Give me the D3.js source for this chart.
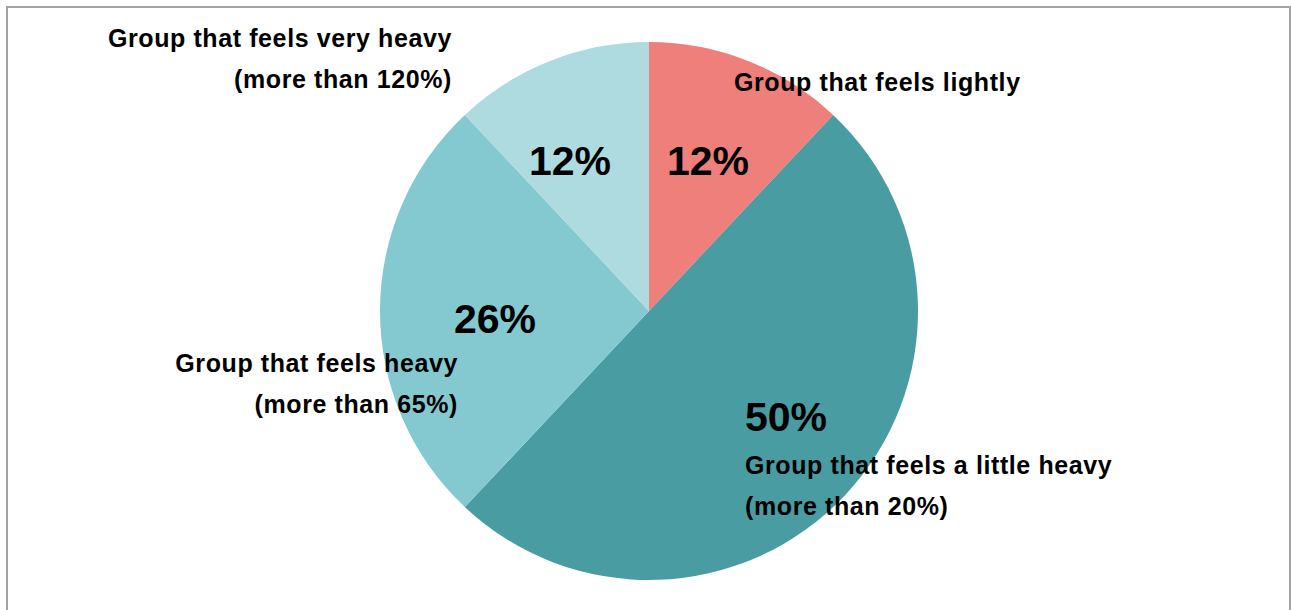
<!DOCTYPE html>
<html>
<head>
<meta charset="utf-8">
<script src="https://cdn.jsdelivr.net/npm/d3@7"></script>
<style>
  body { margin: 0; background: #fff; }
  text { font-family: "Liberation Sans", Arial, sans-serif; font-weight: bold; fill: #000; }
</style>
</head>
<body>
<div id="chart"></div>
<script>
// chart data
var groups = ["Group that feels lightly", "Group that feels a little heavy", "Group that feels heavy", "Group that feels very heavy"];
var subLabels = ["", "(more than 20%)", "(more than 65%)", "(more than 120%)"];
var shares = [12, 50, 26, 12];
var colors = ["#ee7f7a", "#4a9ca3", "#84c9cf", "#aedbdf"];

var width = 1291, height = 610;
var cx = 649, cy = 311, radius = 269;

var svg = d3.select("#chart")
  .append("svg")
  .attr("width", width)
  .attr("height", height);

svg.append("rect")
  .attr("width", width).attr("height", height)
  .attr("fill", "#fff");

// frame
svg.append("rect")
  .attr("x", 7).attr("y", 7)
  .attr("width", 1283).attr("height", 640)
  .attr("fill", "none")
  .attr("stroke", "#a3a3a3")
  .attr("stroke-width", 2);

var g = svg.append("g")
  .attr("transform", "translate(" + cx + "," + cy + ")");

var pie = d3.pie().sort(null).value(function(d){ return d; });
var arc = d3.arc().innerRadius(0).outerRadius(radius);
var arcs = pie(shares);

g.selectAll(".slice")
  .data(arcs)
  .join("path")
    .attr("class", "slice")
    .attr("d", arc)
    .attr("fill", function(d, i){ return colors[i]; });

// label placement (relative to pie centre), set by hand like the original
var pctPos = [[59, 161], [137, 417], [-154, 319], [-79, 161]];
var namePos = [[85, 82, "start"], [96, 465, "start"], [-191, 363, "end"], [-197, 38, "end"]];
var lineGap = 41;

g.selectAll(".pct")
  .data(arcs)
  .join("text")
    .attr("class", "pct")
    .attr("x", function(d, i){ return pctPos[i][0]; })
    .attr("y", function(d, i){ return pctPos[i][1] - cy; })
    .attr("text-anchor", "middle")
    .attr("dominant-baseline", "central")
    .style("font-size", "41px")
    .text(function(d){ return d.data + "%"; });

var names = g.selectAll(".name")
  .data(groups)
  .join("text")
    .attr("class", "name")
    .attr("text-anchor", function(d, i){ return namePos[i][2]; })
    .style("font-size", "25px")
    .style("letter-spacing", "0.6px");

names.append("tspan")
  .attr("x", function(d, i){ return namePos[i][0]; })
  .attr("y", function(d, i){ return namePos[i][1] - cy; })
  .attr("dominant-baseline", "central")
  .text(function(d){ return d; });

names.append("tspan")
  .attr("x", function(d, i){ return namePos[i][0]; })
  .attr("y", function(d, i){ return namePos[i][1] - cy + lineGap; })
  .attr("dominant-baseline", "central")
  .text(function(d, i){ return subLabels[i]; });
</script>
</body>
</html>
